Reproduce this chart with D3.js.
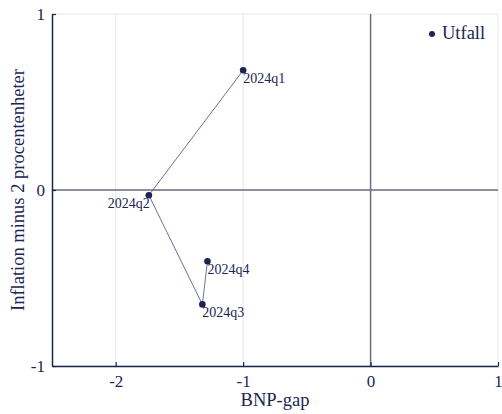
<!DOCTYPE html>
<html>
<head>
<meta charset="utf-8">
<script src="https://cdn.jsdelivr.net/npm/d3@7"></script>
<style>
  html, body { margin: 0; padding: 0; background: #fff; }
  svg { display: block; }
  svg text { font-family: "Liberation Serif"; }
</style>
</head>
<body>
<svg id="chart" width="502" height="414"></svg>
<script>
// Quarterly observations: output gap vs. inflation minus target
const quarters = ["2024q1", "2024q2", "2024q3", "2024q4"];
const gapValues = [-1.0, -1.74, -1.32, -1.28];
const inflationValues = [0.68, -0.03, -0.65, -0.405];
const xTicks = [-2, -1, 0, 1];
const yTicks = [-1, 0, 1];
const seriesName = "Utfall";

const ink = "#1b2452";
const textFont = '"Liberation Serif"';
const svg = d3.select("#chart");
const margin = { left: 52, right: 4, top: 14, bottom: 48 };
const W = 502, H = 414;

const x = d3.scaleLinear().domain([-2.5, 1]).range([margin.left, W - margin.right]);
const y = d3.scaleLinear().domain([-1, 1]).range([H - margin.bottom, margin.top]);

// light grid at each tick
svg.append("g").selectAll("line").data(xTicks).join("line")
  .attr("x1", d => x(d)).attr("x2", d => x(d))
  .attr("y1", y(-1)).attr("y2", y(1))
  .attr("stroke", "#e6e6ec").attr("stroke-width", 1);
svg.append("g").selectAll("line").data(yTicks).join("line")
  .attr("x1", x(-2.5)).attr("x2", x(1))
  .attr("y1", d => y(d)).attr("y2", d => y(d))
  .attr("stroke", "#e6e6ec").attr("stroke-width", 1);

// zero reference lines
svg.append("line")
  .attr("x1", x(-2.5)).attr("x2", x(1)).attr("y1", y(0)).attr("y2", y(0))
  .attr("stroke", "#6e6e82").attr("stroke-width", 1.5);
svg.append("line")
  .attr("x1", x(0)).attr("x2", x(0)).attr("y1", y(-1)).attr("y2", y(1))
  .attr("stroke", "#6e6e82").attr("stroke-width", 1.5);

// axes with inward ticks
const fmt = d => d < 0 ? "-" + Math.abs(d) : String(d);
const xAxis = svg.append("g")
  .attr("transform", `translate(0,${y(-1)})`)
  .call(d3.axisBottom(x).tickValues(xTicks).tickSize(-4).tickSizeOuter(0).tickFormat(fmt));
const yAxis = svg.append("g")
  .attr("transform", `translate(${x(-2.5)},0)`)
  .call(d3.axisLeft(y).tickValues(yTicks).tickSize(-4).tickSizeOuter(0).tickFormat(fmt));
[xAxis, yAxis].forEach(g => {
  g.attr("font-family", null).attr("font-size", null);
  g.select(".domain").attr("stroke", ink).attr("stroke-width", 1.5);
  g.selectAll(".tick line").attr("stroke", ink).attr("stroke-width", 1.2);
  g.selectAll(".tick text")
    .attr("fill", ink)
    .style("font-family", textFont).style("font-size", "17px");
});
xAxis.selectAll(".tick text").attr("y", 21).attr("dy", null);
yAxis.selectAll(".tick text").attr("x", -7).attr("dy", "0.33em");

// axis titles
svg.append("text")
  .attr("x", (x(-2.5) + x(1)) / 2).attr("y", 406)
  .attr("text-anchor", "middle").attr("fill", ink)
  .style("font-family", textFont).style("font-size", "18.5px")
  .text("BNP-gap");
svg.append("text")
  .attr("transform", `translate(24,${y(0)}) rotate(-90)`)
  .attr("text-anchor", "middle").attr("fill", ink)
  .style("font-family", textFont).style("font-size", "18.5px")
  .text("Inflation minus 2 procentenheter");

// path connecting the quarters
const pts = quarters.map((q, i) => ({ q, gx: gapValues[i], inf: inflationValues[i] }));
svg.append("path")
  .datum(pts)
  .attr("fill", "none")
  .attr("stroke", "#5a6190").attr("stroke-width", 0.9)
  .attr("d", d3.line().x(d => x(d.gx)).y(d => y(d.inf)));

svg.append("g").selectAll("circle").data(pts).join("circle")
  .attr("cx", d => x(d.gx)).attr("cy", d => y(d.inf)).attr("r", 3.3)
  .attr("fill", ink);

// point labels
const labelPos = { "2024q2": { anchor: "end", dx: 1, dy: 13 } };
svg.append("g").selectAll("text").data(pts).join("text")
  .attr("x", d => x(d.gx) + (labelPos[d.q] ? labelPos[d.q].dx : 0))
  .attr("y", d => y(d.inf) + (labelPos[d.q] ? labelPos[d.q].dy : 12.5))
  .attr("text-anchor", d => labelPos[d.q] ? labelPos[d.q].anchor : "start")
  .attr("fill", ink)
  .style("font-family", textFont).style("font-size", "14px")
  .text(d => d.q);

// legend
const leg = svg.append("g").attr("transform", "translate(432,34)");
leg.append("circle").attr("r", 3).attr("fill", ink);
leg.append("text").attr("x", 10).attr("y", 4.5).attr("fill", ink)
  .style("font-family", textFont).style("font-size", "18.5px")
  .text(seriesName);
</script>
</body>
</html>
